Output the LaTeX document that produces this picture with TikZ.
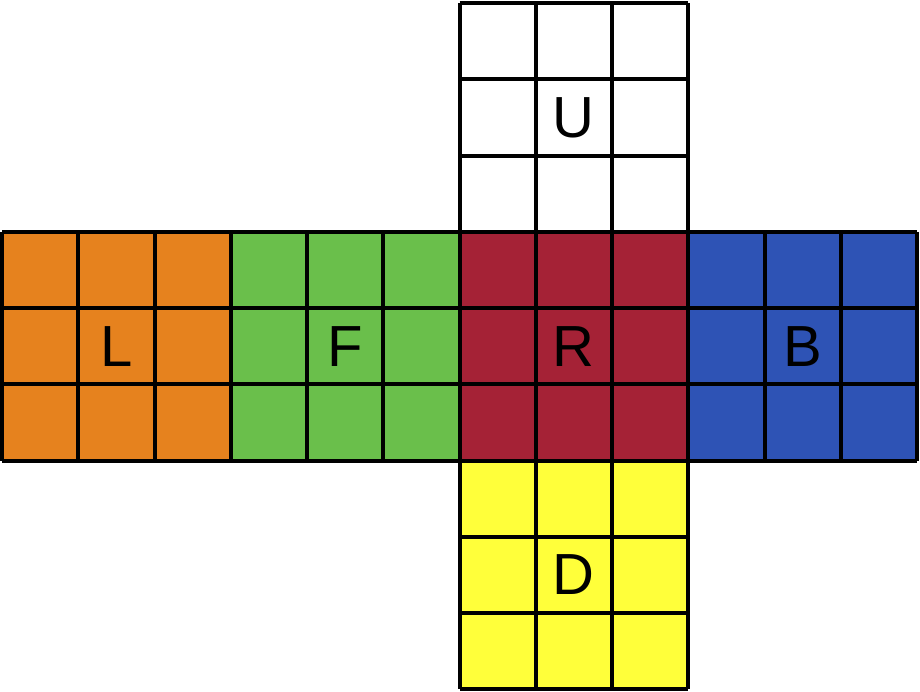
\documentclass[tikz,border=0pt]{standalone}
\usepackage{fontspec}
\setmainfont{Liberation Sans}
\definecolor{cOrange}{HTML}{E6821E}
\definecolor{cGreen}{HTML}{6ABF4B}
\definecolor{cRed}{HTML}{A52236}
\definecolor{cBlue}{HTML}{2E53B5}
\definecolor{cYellow}{HTML}{FFFF3A}
\definecolor{cWhite}{HTML}{FFFFFF}
\begin{document}
\begin{tikzpicture}[x=1pt,y=-1pt,
  gridline/.style={draw=black,line width=4pt},
  facelabel/.style={font=\fontsize{58}{60}\selectfont,text=black,inner sep=0pt}]
\useasboundingbox (0,0) rectangle (920,691);
\fill[white] (0,0) rectangle (920,691);
\def\s{76.25}
% face: column index, row index, colour, label, name
\foreach \c/\r/\col/\lab/\nm in {2/0/cWhite/U/U,0/1/cOrange/L/L,1/1/cGreen/F/F,2/1/cRed/R/R,3/1/cBlue/B/B,2/2/cYellow/D/D}{
  \pgfmathsetmacro{\xa}{2+3*\c*\s}
  \pgfmathsetmacro{\ya}{3+3*\r*\s}
  \fill[\col] (\xa,\ya) rectangle ++(3*\s,3*\s);
  \foreach \i in {0,1,2,3}{
    \draw[gridline] (\xa+\i*\s,\ya) -- ++(0,3*\s);
    \draw[gridline] (\xa,\ya+\i*\s) -- ++(3*\s,0);
  }
  \node[facelabel] (\nm) at (\xa+1.5*\s,\ya+1.5*\s) {\lab};
}
\end{tikzpicture}
\end{document}
